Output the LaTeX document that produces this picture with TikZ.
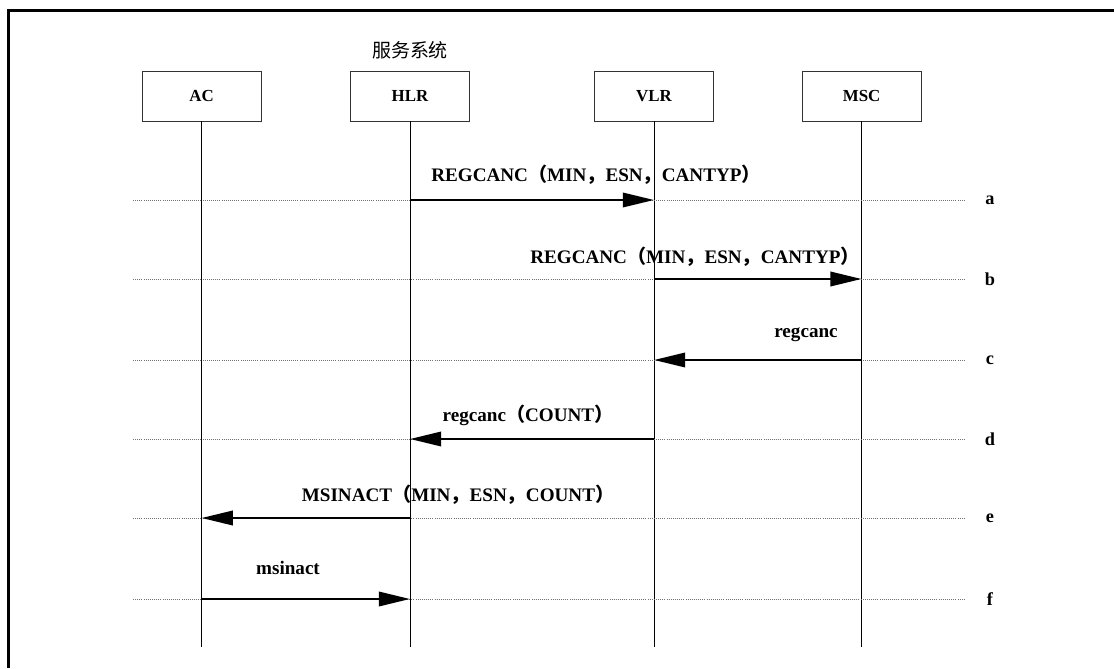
\documentclass[tikz,border=0pt]{standalone}
\usepackage{fontspec}
\setmainfont{Liberation Serif}
\newfontfamily\cjk{Noto Sans CJK SC}
\usetikzlibrary{arrows.meta}

\newcommand{\fwlp}{{\cjk （}}
\newcommand{\fwrp}{{\cjk ）}}
\newcommand{\fwcm}{{\cjk ，}}

\begin{document}
\begin{tikzpicture}[
        entity/.style={
            rectangle,
            draw=black!80,
            line width=0.7pt,
            minimum width=2.98cm,
            minimum height=1.25cm,
            font=\fontsize{12}{14}\selectfont\bfseries
        },
        lifeline/.style={
            draw=black,
            line width=0.6pt
        },
        guide/.style={
            draw=black!55,
            densely dotted,
            line width=0.5pt
        },
        msg/.style={
            draw=black,
            line width=1.6pt,
            -{Triangle[length=0.78cm, width=0.36cm]}
        },
        msglabel/.style={
            font=\fontsize{13.6}{16}\selectfont\bfseries,
            inner sep=1pt
        },
        tag/.style={
            font=\fontsize{13}{15}\selectfont\bfseries,
            inner sep=1pt
        }
    ]

    \useasboundingbox (0,0) rectangle (27.85,16.7);
    \draw[line width=2pt] (0.21,0) -- (0.21,16.44) -- (27.85,16.44);

    \node[font=\cjk\fontsize{13.5}{16}\selectfont] (title) at (10.25,15.45) {服务系统};

    \node[entity] (ac)  at (5.04,14.3)  {AC};
    \node[entity] (hlr) at (10.25,14.3) {HLR};
    \node[entity] (vlr) at (16.35,14.3) {VLR};
    \node[entity] (msc) at (21.54,14.3) {MSC};

    \foreach \n in {ac,hlr,vlr,msc} {
        \coordinate (\n-end) at (\n.south |- 0,0.525);
        \draw[lifeline] (\n.south) -- (\n-end);
    }

    \foreach \r/\y in {a/11.7, b/9.725, c/7.7, d/5.725, e/3.75, f/1.725} {
        \coordinate (row-\r) at (3.325,\y);
        \coordinate (rowend-\r) at (24.125,\y);
        \node[tag] (tag-\r) at (24.75,\y) {\r};
        \draw[guide] (row-\r) -- (rowend-\r);
        \foreach \n in {ac,hlr,vlr,msc}
            \coordinate (\n-\r) at (\n |- row-\r);
    }

    \draw[msg] (hlr-a) -- (vlr-a);
    \node[msglabel] (lbl-a) at (14.9,12.325) {REGCANC\fwlp MIN\fwcm ESN\fwcm CANTYP\fwrp};

    \draw[msg] (vlr-b) -- (msc-b);
    \node[msglabel] (lbl-b) at (17.375,10.275) {REGCANC\fwlp MIN\fwcm ESN\fwcm CANTYP\fwrp};

    \draw[msg] (msc-c) -- (vlr-c);
    \node[msglabel] (lbl-c) at (20.15,8.325) {regcanc};

    \draw[msg] (vlr-d) -- (hlr-d);
    \node[msglabel] (lbl-d) at (13.2,6.325) {regcanc\fwlp COUNT\fwrp};

    \draw[msg] (hlr-e) -- (ac-e);
    \node[msglabel] (lbl-e) at (11.45,4.325) {MSINACT\fwlp MIN\fwcm ESN\fwcm COUNT\fwrp};

    \draw[msg] (ac-f) -- (hlr-f);
    \node[msglabel] (lbl-f) at (7.2,2.5) {msinact};

\end{tikzpicture}
\end{document}
